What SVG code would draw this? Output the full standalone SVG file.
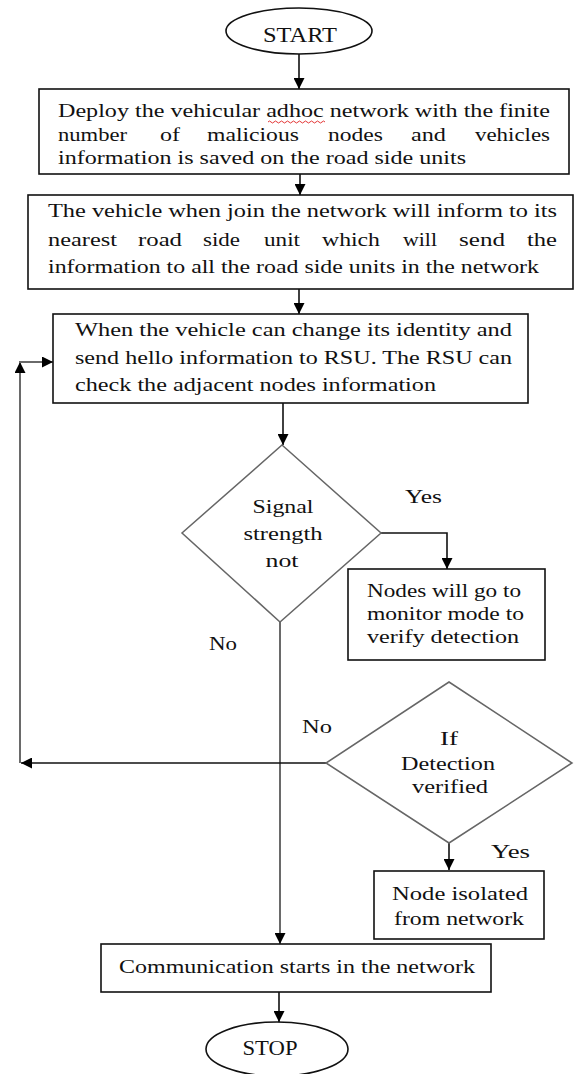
<svg xmlns="http://www.w3.org/2000/svg" width="575" height="1074" viewBox="0 0 575 1074">
<style>
.t{font-family:"Liberation Serif","Times New Roman",serif;font-size:18px;fill:#111;}
.tb{font-family:"Liberation Serif","Times New Roman",serif;font-size:20px;fill:#111;}
.box{fill:#fff;stroke:#111;stroke-width:1.6;}
.dia{fill:#fff;stroke:#666;stroke-width:1.5;}
.c{fill:none;stroke:#111;stroke-width:1.6;}
.g{fill:none;stroke:#6a6a6a;stroke-width:2;}
</style>
<defs>
<marker id="ah" viewBox="0 0 10 10" refX="10" refY="5" markerWidth="11" markerHeight="11" markerUnits="userSpaceOnUse" orient="auto">
<path d="M0,0 L10,5 L0,10 z" fill="#000"/>
</marker>
</defs>
<g id="connectors">
<line class="c" x1="299" y1="54" x2="299" y2="89" marker-end="url(#ah)"/>
<line class="c" x1="300" y1="174" x2="300" y2="195" marker-end="url(#ah)"/>
<line class="c" x1="299" y1="289" x2="299" y2="314" marker-end="url(#ah)"/>
<line class="c" x1="283" y1="403" x2="283" y2="445" marker-end="url(#ah)"/>
<path class="c" d="M381,533 H447 V569" marker-end="url(#ah)"/>
<line class="g" x1="280" y1="622" x2="280" y2="944" marker-end="url(#ah)"/>
<line class="c" x1="449" y1="843" x2="449" y2="870" marker-end="url(#ah)"/>
<line class="c" x1="326" y1="763" x2="21" y2="763" marker-end="url(#ah)"/>
<line class="g" x1="20" y1="763" x2="20" y2="362" marker-end="url(#ah)"/>
<line class="g" x1="19" y1="362" x2="53" y2="362" marker-end="url(#ah)"/>
<line class="c" x1="279" y1="992" x2="279" y2="1022" marker-end="url(#ah)"/>
</g>
<g id="start">
<ellipse class="box" cx="299" cy="31" rx="73" ry="23"/>
<text class="tb" x="300" y="42" text-anchor="middle" textLength="74" lengthAdjust="spacingAndGlyphs">START</text>
</g>
<g id="deploy">
<rect class="box" x="39" y="89" width="530" height="85"/>
<text class="t" x="58" y="117" textLength="492" lengthAdjust="spacingAndGlyphs">Deploy the vehicular adhoc network with the finite</text>
<path d="M268,122 q1.5,-2 3,0 t3,0 t3,0 t3,0 t3,0 t3,0 t3,0 t3,0 t3,0 t3,0 t3,0 t3,0 t3,0 t3,0 t3,0 t3,0 t3,0 t3,0 t3,0" fill="none" stroke="#e02020" stroke-width="0.9"/>
<text class="t" x="58" y="141" textLength="69" lengthAdjust="spacingAndGlyphs">number</text>
<text class="t" x="160" y="141" textLength="20" lengthAdjust="spacingAndGlyphs">of</text>
<text class="t" x="207" y="141" textLength="92" lengthAdjust="spacingAndGlyphs">malicious</text>
<text class="t" x="328" y="141" textLength="55" lengthAdjust="spacingAndGlyphs">nodes</text>
<text class="t" x="411" y="141" textLength="35" lengthAdjust="spacingAndGlyphs">and</text>
<text class="t" x="475" y="141" textLength="75" lengthAdjust="spacingAndGlyphs">vehicles</text>
<text class="t" x="58" y="164" textLength="408" lengthAdjust="spacingAndGlyphs">information is saved on the road side units</text>
</g>
<g id="join">
<rect class="box" x="28" y="195" width="545" height="94"/>
<text class="t" x="48" y="217" textLength="509" lengthAdjust="spacingAndGlyphs">The vehicle when join the network will inform to its</text>
<text class="t" x="48" y="246" textLength="69" lengthAdjust="spacingAndGlyphs">nearest</text>
<text class="t" x="138" y="246" textLength="44" lengthAdjust="spacingAndGlyphs">road</text>
<text class="t" x="203" y="246" textLength="37" lengthAdjust="spacingAndGlyphs">side</text>
<text class="t" x="264" y="246" textLength="36" lengthAdjust="spacingAndGlyphs">unit</text>
<text class="t" x="322" y="246" textLength="58" lengthAdjust="spacingAndGlyphs">which</text>
<text class="t" x="403" y="246" textLength="34" lengthAdjust="spacingAndGlyphs">will</text>
<text class="t" x="459" y="246" textLength="46" lengthAdjust="spacingAndGlyphs">send</text>
<text class="t" x="527" y="246" textLength="30" lengthAdjust="spacingAndGlyphs">the</text>
<text class="t" x="48" y="273" textLength="491" lengthAdjust="spacingAndGlyphs">information to all the road side units in the network</text>
</g>
<g id="identity">
<rect class="box" x="53" y="314" width="475" height="89"/>
<text class="t" x="75" y="336" textLength="437" lengthAdjust="spacingAndGlyphs">When the vehicle can change its identity and</text>
<text class="t" x="75" y="364" textLength="437" lengthAdjust="spacingAndGlyphs">send hello information to RSU. The RSU can</text>
<text class="t" x="75" y="391" textLength="361" lengthAdjust="spacingAndGlyphs">check the adjacent nodes information</text>
</g>
<g id="signal">
<polygon class="dia" points="282,445 381,533 280,622 182,533"/>
<text class="t" x="283" y="513" text-anchor="middle" textLength="61" lengthAdjust="spacingAndGlyphs">Signal</text>
<text class="t" x="283" y="540" text-anchor="middle" textLength="79" lengthAdjust="spacingAndGlyphs">strength</text>
<text class="t" x="282" y="567" text-anchor="middle" textLength="33" lengthAdjust="spacingAndGlyphs">not</text>
</g>
<g id="monitor">
<rect class="box" x="348" y="569" width="197" height="91"/>
<text class="t" x="367" y="597" textLength="154" lengthAdjust="spacingAndGlyphs">Nodes will  go to</text>
<text class="t" x="367" y="620" textLength="157" lengthAdjust="spacingAndGlyphs">monitor mode to</text>
<text class="t" x="367" y="643" textLength="152" lengthAdjust="spacingAndGlyphs">verify detection</text>
</g>
<g id="verified">
<polygon class="dia" points="449,682 572,763 449,843 326,763"/>
<text class="t" x="449" y="745" text-anchor="middle" textLength="18" lengthAdjust="spacingAndGlyphs">If</text>
<text class="t" x="448" y="770" text-anchor="middle" textLength="94" lengthAdjust="spacingAndGlyphs">Detection</text>
<text class="t" x="450" y="793" text-anchor="middle" textLength="76" lengthAdjust="spacingAndGlyphs">verified</text>
</g>
<g id="isolated">
<rect class="box" x="374" y="871" width="170" height="68"/>
<text class="t" x="392" y="900" textLength="136" lengthAdjust="spacingAndGlyphs">Node isolated</text>
<text class="t" x="394" y="925" textLength="130" lengthAdjust="spacingAndGlyphs">from network</text>
</g>
<g id="communication">
<rect class="box" x="101" y="944" width="390" height="48"/>
<text class="t" x="119" y="973" textLength="356" lengthAdjust="spacingAndGlyphs">Communication starts in the network</text>
</g>
<g id="stop">
<ellipse class="box" cx="277" cy="1049" rx="71" ry="27"/>
<text class="tb" x="270" y="1055" text-anchor="middle" textLength="55" lengthAdjust="spacingAndGlyphs">STOP</text>
</g>
<g id="labels">
<text class="t" x="405" y="503" textLength="37" lengthAdjust="spacingAndGlyphs">Yes</text>
<text class="t" x="209" y="650" textLength="28" lengthAdjust="spacingAndGlyphs">No</text>
<text class="t" x="302" y="733" textLength="30" lengthAdjust="spacingAndGlyphs">No</text>
<text class="t" x="491" y="858" textLength="39" lengthAdjust="spacingAndGlyphs">Yes</text>
</g>
</svg>
